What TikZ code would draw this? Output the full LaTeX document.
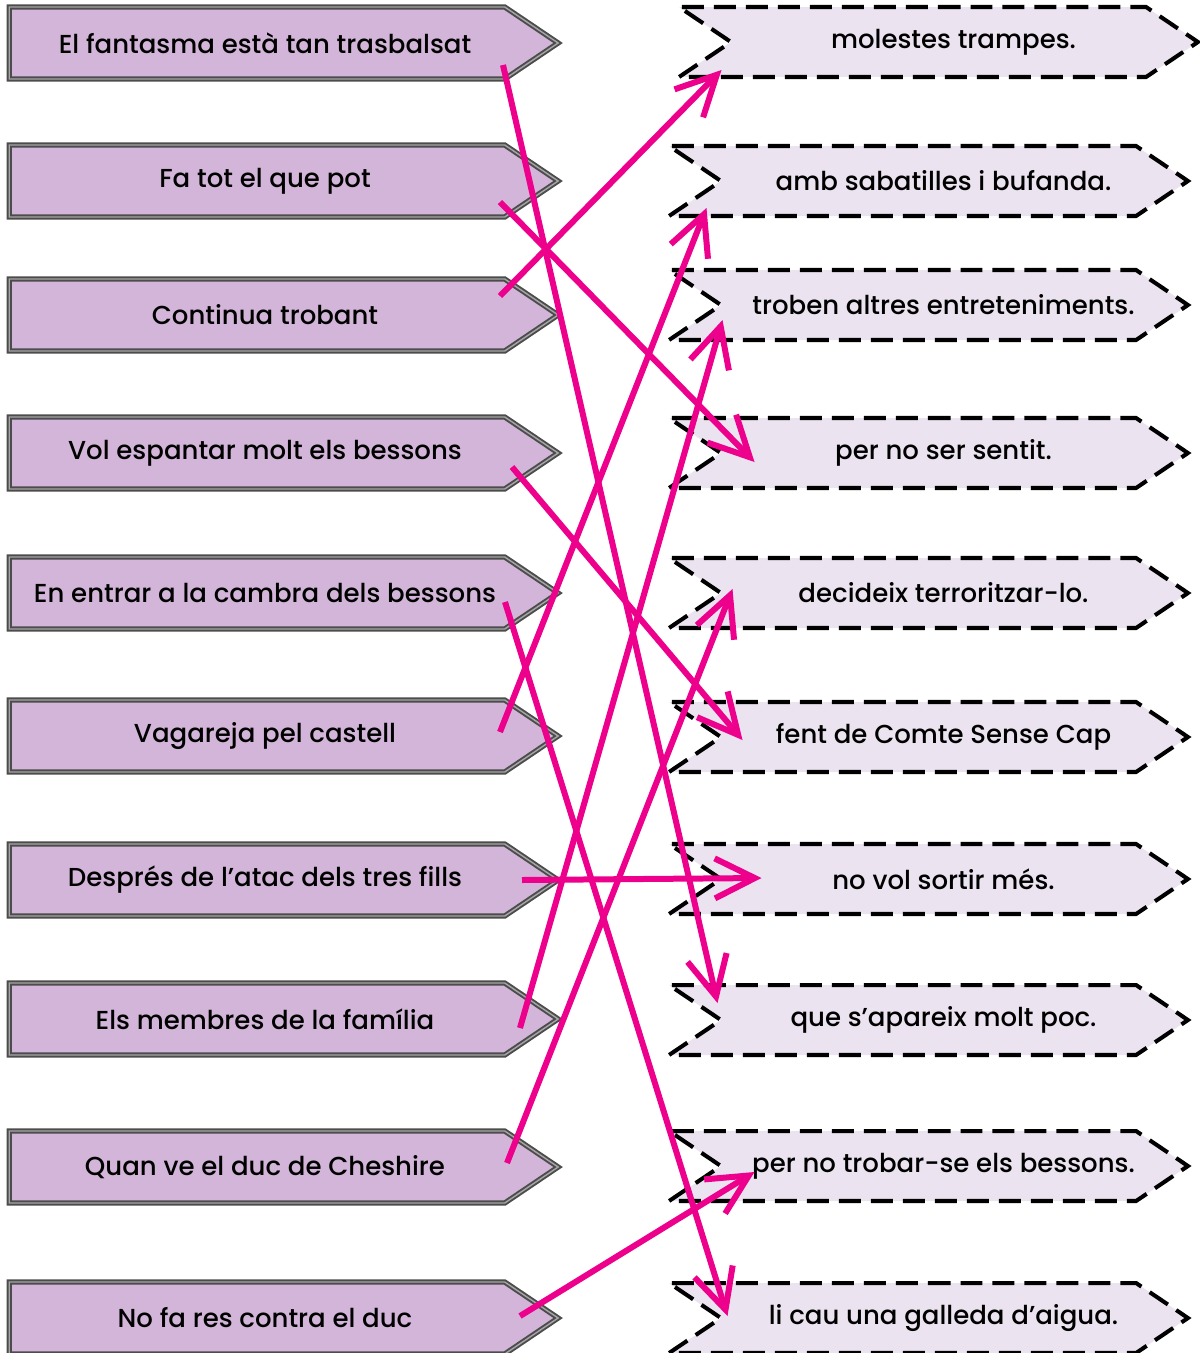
\documentclass[tikz,border=0pt]{standalone}
\usepackage{fontspec}
\setmainfont{Poppins}[UprightFont=* Medium]
\usetikzlibrary{shapes.symbols,arrows.meta}

\definecolor{boxlila}{HTML}{D2B5D8}
\definecolor{palelila}{HTML}{EBE3F0}
\definecolor{fucsia}{HTML}{EC008C}

\tikzset{
  frase/.style={signal, signal to=east, signal pointer angle=68,
    fill=boxlila, draw=black!70, double=black!35, double distance=0.8pt, line width=1.1pt,
    minimum width=10.98cm, minimum height=1.44cm, inner sep=0pt, text=black,
    font=\fontsize{14.8}{17}\selectfont, execute at begin node=\hspace*{0.32cm}},
  final/.style={signal, signal to=east, signal from=west, signal pointer angle=68,
    fill=palelila, draw=black, line width=2.3pt, dash pattern=on 0.44cm off 0.2cm,
    minimum width=10.38cm, minimum height=1.4cm, inner sep=0pt, text=black,
    font=\fontsize{14.8}{17}\selectfont, execute at begin node=\hspace*{0.6cm}},
  uneix/.style={draw=fucsia, line width=0.12cm,
    -{Straight Barb[length=0.8cm,width=0.8cm]}},
}

\begin{document}
\begin{tikzpicture}[x=0.02cm,y=-0.02cm]
  \useasboundingbox (0,0) rectangle (1200,1353);

  % first halves
  \node[frase] (l1) at (257,43) {El fantasma està tan trasbalsat};
  \node[frase] (l2) at (257,181) {Fa tot el que pot};
  \node[frase] (l3) at (257,315) {Continua trobant};
  \node[frase] (l4) at (257,453) {Vol espantar molt els bessons};
  \node[frase] (l5) at (257,593) {En entrar a la cambra dels bessons};
  \node[frase] (l6) at (257,736) {Vagareja pel castell};
  \node[frase] (l7) at (257,880) {Després de l’atac dels tres fills};
  \node[frase] (l8) at (257,1019) {Els membres de la família};
  \node[frase] (l9) at (257,1167) {Quan ve el duc de Cheshire};
  \node[frase] (l10) at (257,1318) {No fa res contra el duc};

  % second halves
  \node[final] (r1) at (938.5,42) {molestes trampes.};
  \node[final] (r2) at (928.5,181) {amb sabatilles i bufanda.};
  \node[final] (r3) at (928.5,305) {troben altres entreteniments.};
  \node[final] (r4) at (928.5,453) {per no ser sentit.};
  \node[final] (r5) at (928.5,593) {decideix terroritzar-lo.};
  \node[final] (r6) at (928.5,737) {fent de Comte Sense Cap};
  \node[final] (r7) at (928.5,879) {no vol sortir més.};
  \node[final] (r8) at (928.5,1020) {que s’apareix molt poc.};
  \node[final] (r9) at (928.5,1166) {per no trobar-se els bessons.};
  \node[final] (r10) at (928.5,1318) {li cau una galleda d’aigua.};

  \draw[uneix] ([shift={(246,22)}]l1.center) -- ([shift={(-211,-17)}]r8.center);
  \draw[uneix] ([shift={(243,21)}]l2.center) -- ([shift={(-174,9)}]r4.center);
  \draw[uneix] ([shift={(243,-19)}]l3.center) -- ([shift={(-217,28)}]r1.center);
  \draw[uneix] ([shift={(255,14)}]l4.center) -- ([shift={(-186,3)}]r6.center);
  \draw[uneix] ([shift={(248,9)}]l5.center) -- ([shift={(-201,-2)}]r10.center);
  \draw[uneix] ([shift={(243,-4)}]l6.center) -- ([shift={(-222,27)}]r2.center);
  \draw[uneix] ([shift={(265,0)}]l7.center) -- ([shift={(-167,-1)}]r7.center);
  \draw[uneix] ([shift={(263,9)}]l8.center) -- ([shift={(-206,15)}]r3.center);
  \draw[uneix] ([shift={(250,-4)}]l9.center) -- ([shift={(-196,-4)}]r5.center);
  \draw[uneix] ([shift={(263,-2)}]l10.center) -- ([shift={(-174,6)}]r9.center);
\end{tikzpicture}
\end{document}
